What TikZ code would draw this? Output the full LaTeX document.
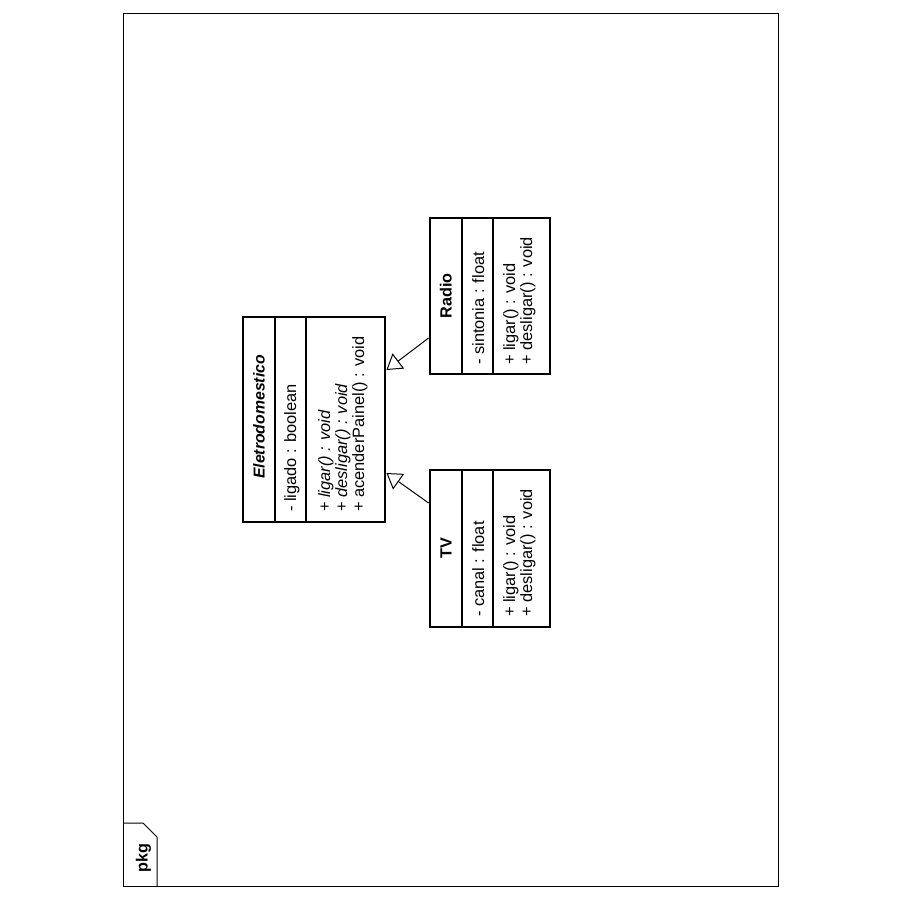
\documentclass[tikz,border=0pt]{standalone}
\usepackage{fontspec}
\setmainfont{Liberation Sans}
\usetikzlibrary{arrows.meta,calc}
\begin{document}
\begin{tikzpicture}[x=1pt,y=-1pt,
  classbox/.style={draw, line width=2.8pt, inner sep=0pt, fill=white},
  divider/.style={line width=1.2pt},
  frame/.style={line width=1pt},
  txt/.style={rotate=90, anchor=base west, inner sep=0pt, font=\fontsize{16.4}{19}\selectfont},
  nametxt/.style={rotate=90, anchor=base, inner sep=0pt, font=\fontsize{16.2}{19}\selectfont\bfseries},
  gen/.style={line width=1pt, -{Triangle[open, length=15pt, width=19pt, line width=1pt]}}
]
\useasboundingbox (0,0) rectangle (900,900);
% package frame
\draw[frame] (123,13) rectangle (778,886);
\draw[frame] (123,823) -- (143,823) -- (157,837) -- (157,886);
\node[nametxt] (pkg) at (147.5,858) {pkg};

% Eletrodomestico
\node[classbox, minimum width=142pt, minimum height=205pt] (elet) at (314,419.5) {};
\draw[divider] (275,317) -- (275,522);
\draw[divider] (306,317) -- (306,522);
\node[nametxt, font=\fontsize{15.8}{19}\selectfont\bfseries\itshape] (eletname) at (264.5,417) {Eletrodomestico};
\node[txt] (eleta1) at (296,512) {- ligado : boolean};
\node[txt] (eletm1) at (330,512) {+ \textit{ligar() : void}};
\node[txt] (eletm2) at (347,512) {+ \textit{desligar() : void}};
\node[txt] (eletm3) at (364,512) {+ acenderPainel() : void};

% Radio
\node[classbox, minimum width=120pt, minimum height=156pt] (radio) at (490,296) {};
\draw[divider] (462,218) -- (462,374);
\draw[divider] (493,218) -- (493,374);
\node[nametxt] (radioname) at (451.5,296) {Radio};
\node[txt] (radioa1) at (484,365) {- sintonia : float};
\node[txt] (radiom1) at (515,365) {+ ligar() : void};
\node[txt] (radiom2) at (532,365) {+ desligar() : void};

% TV
\node[classbox, minimum width=120pt, minimum height=157pt] (tv) at (490,548.5) {};
\draw[divider] (462,470) -- (462,627);
\draw[divider] (493,470) -- (493,627);
\node[nametxt] (tvname) at (451.5,548.5) {TV};
\node[txt] (tva1) at (484,617) {- canal : float};
\node[txt] (tvm1) at (515,617) {+ ligar() : void};
\node[txt] (tvm2) at (532,617) {+ desligar() : void};

% generalizations
\draw[gen] ($(radio.west)+(0,42)$) -- ($(elet.east)+(0,-49.5)$);
\draw[gen] ($(tv.west)+(0,-45.5)$) -- ($(elet.east)+(0,53.5)$);
\end{tikzpicture}
\end{document}
